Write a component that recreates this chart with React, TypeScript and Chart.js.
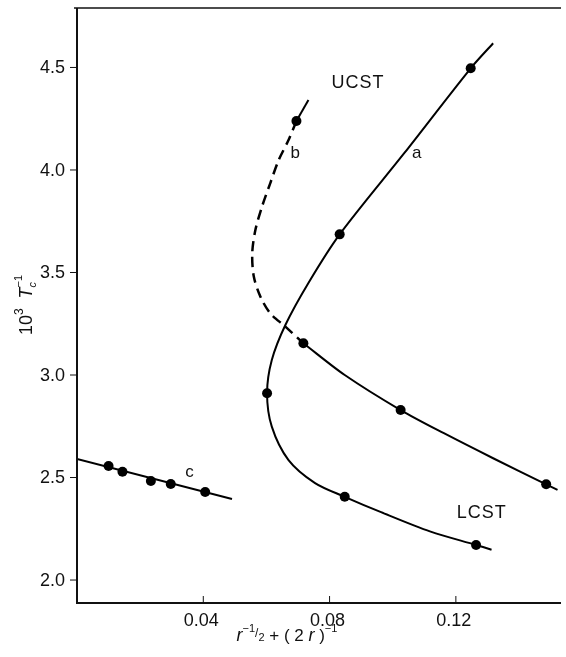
import React, { useEffect, useRef } from 'react';
import { Chart, registerables } from 'chart.js';

Chart.register(...registerables);

// ---- axis ranges ----
const X_MIN = 0;
const X_MAX = 0.1533;
const Y_MIN = 1.888;
const Y_MAX = 4.79;

// ---- ticks ----
const xTickValues = [0.04, 0.08, 0.12];
const xTickLabels = ['0.04', '0.08', '0.12'];
const yTickValues = [2.0, 2.5, 3.0, 3.5, 4.0, 4.5];
const yTickLabels = ['2.0', '2.5', '3.0', '3.5', '4.0', '4.5'];

// ---- curve a (solid) ----
const curveA: [number, number][] = [
  [0.1318, 4.618], [0.1247, 4.496], [0.1037, 4.083], [0.0832, 3.686], [0.0733, 3.449],
  [0.0660, 3.244], [0.0617, 3.073], [0.0602, 2.911], [0.0617, 2.748],
  [0.0670, 2.585], [0.0754, 2.473], [0.0848, 2.406], [0.0963, 2.331],
  [0.1120, 2.236], [0.1264, 2.171], [0.1313, 2.148],
];

// ---- curve b: short solid top, dashed middle, solid lower branch ----
const curveBTop: [number, number][] = [[0.0733, 4.341], [0.0695, 4.239]];
const curveBDashed: [number, number][] = [
  [0.0695, 4.239], [0.0670, 4.146], [0.0639, 4.049], [0.0612, 3.935],
  [0.0586, 3.821], [0.0565, 3.707], [0.0555, 3.594], [0.0560, 3.480],
  [0.0581, 3.382], [0.0612, 3.301], [0.0660, 3.236], [0.0717, 3.155],
];
const curveBLower: [number, number][] = [
  [0.0717, 3.155], [0.0848, 3.000], [0.1025, 2.829], [0.1162, 2.716],
  [0.1318, 2.594], [0.1486, 2.467], [0.1522, 2.440],
];

// ---- curve c (straight fit) ----
const curveC: [number, number][] = [[0.0, 2.590], [0.0491, 2.395]];

// ---- measured points ----
const pointsA: [number, number][] = [
  [0.1247, 4.496], [0.0832, 3.686], [0.0602, 2.911], [0.0848, 2.406], [0.1264, 2.171],
];
const pointsB: [number, number][] = [
  [0.0695, 4.239], [0.0717, 3.155], [0.1025, 2.829], [0.1486, 2.467],
];
const pointsC: [number, number][] = [
  [0.0100, 2.556], [0.0144, 2.528], [0.0234, 2.483], [0.0297, 2.468], [0.0406, 2.429],
];

// ---- in-plot labels ----
const labelTexts = ['UCST', 'b', 'a', 'c', 'LCST'];
const labelX = [0.0890, 0.0691, 0.1076, 0.0356, 0.1282];
const labelY = [4.424, 4.081, 4.081, 2.523, 2.327];

const FONT = '"Liberation Sans", Arial, sans-serif';
const INK = '#111';

type Seg = { t: string; size: number; italic?: boolean; dy?: number; noAdvance?: boolean };

function drawRich(ctx: CanvasRenderingContext2D, segs: Seg[], cx: number, cy: number, rotate: boolean) {
  ctx.save();
  ctx.translate(cx, cy);
  if (rotate) ctx.rotate(-Math.PI / 2);
  const fontOf = (s: Seg) => `${s.italic ? 'italic ' : ''}${s.size}px ${FONT}`;
  let total = 0;
  segs.forEach((s) => {
    ctx.font = fontOf(s);
    if (!s.noAdvance) total += ctx.measureText(s.t).width;
  });
  let x = -total / 2;
  ctx.textBaseline = 'alphabetic';
  ctx.textAlign = 'left';
  segs.forEach((s) => {
    ctx.font = fontOf(s);
    ctx.fillText(s.t, x, 6 + (s.dy || 0));
    if (!s.noAdvance) x += ctx.measureText(s.t).width;
  });
  ctx.restore();
}

const axesPlugin = {
  id: 'paperAxes',
  afterDraw(chart: any) {
    const { ctx, chartArea: ca, scales } = chart;
    const xs = scales.x;
    const ys = scales.y;
    ctx.save();
    ctx.strokeStyle = INK;
    ctx.fillStyle = INK;
    // main axes
    ctx.lineWidth = 2;
    ctx.beginPath();
    ctx.moveTo(ca.left, ca.top);
    ctx.lineTo(ca.left, ca.bottom);
    ctx.lineTo(ca.right, ca.bottom);
    ctx.stroke();
    // top frame line
    ctx.lineWidth = 1.5;
    ctx.beginPath();
    ctx.moveTo(ca.left - 3, ca.top);
    ctx.lineTo(ca.right, ca.top);
    ctx.stroke();

    // y ticks (outward) and labels
    ctx.lineWidth = 1;
    ctx.font = `18px ${FONT}`;
    ctx.textAlign = 'right';
    ctx.textBaseline = 'middle';
    yTickValues.forEach((v, i) => {
      const py = ys.getPixelForValue(v);
      ctx.beginPath();
      ctx.moveTo(ca.left - 7, py);
      ctx.lineTo(ca.left, py);
      ctx.stroke();
      ctx.fillText(yTickLabels[i], ca.left - 12, py + 1);
    });

    // x ticks (inward) and labels
    ctx.textAlign = 'center';
    ctx.textBaseline = 'top';
    xTickValues.forEach((v, i) => {
      const px = xs.getPixelForValue(v);
      ctx.beginPath();
      ctx.moveTo(px, ca.bottom);
      ctx.lineTo(px, ca.bottom - 7);
      ctx.stroke();
      ctx.fillText(xTickLabels[i], px - 2, ca.bottom + 9);
    });

    // axis titles
    drawRich(
      ctx,
      [
        { t: '10', size: 18 },
        { t: '3', size: 12, dy: -9 },
        { t: '  ', size: 18 },
        { t: 'T', size: 18, italic: true },
        { t: 'c', size: 11, italic: true, dy: 4, noAdvance: true },
        { t: '−1', size: 11, dy: -10 },
      ],
      26,
      305,
      true,
    );
    drawRich(
      ctx,
      [
        { t: 'r', size: 18, italic: true },
        { t: '−1', size: 11, dy: -9 },
        { t: '/', size: 12, dy: -4 },
        { t: '2', size: 11, dy: 0 },
        { t: ' + ( 2 ', size: 17 },
        { t: 'r', size: 18, italic: true },
        { t: ' )', size: 17 },
        { t: '−1', size: 11, dy: -9 },
      ],
      xs.getPixelForValue(0.0665),
      ca.bottom + 32,
      false,
    );

    // in-plot labels
    ctx.textAlign = 'center';
    ctx.textBaseline = 'middle';
    labelTexts.forEach((t, i) => {
      const big = t.length > 1;
      ctx.font = `${big ? 18 : 17}px ${FONT}`;
      (ctx as any).letterSpacing = big ? '1px' : '0px';
      ctx.fillText(t, xs.getPixelForValue(labelX[i]), ys.getPixelForValue(labelY[i]));
    });
    (ctx as any).letterSpacing = '0px';
    ctx.restore();
  },
};

const toXY = (arr: [number, number][]) => arr.map(([x, y]) => ({ x, y }));

export default function App() {
  const ref = useRef<HTMLCanvasElement | null>(null);

  useEffect(() => {
    document.body.style.margin = '0';
    const canvas = ref.current;
    if (!canvas) return;
    const lineBase = {
      showLine: true,
      pointRadius: 0,
      pointHoverRadius: 0,
      borderColor: '#000',
      backgroundColor: '#000',
      borderWidth: 2,
      fill: false,
    };
    const pointBase = {
      showLine: false,
      pointRadius: 5,
      pointHoverRadius: 5,
      pointBorderWidth: 0,
      backgroundColor: '#000',
      borderColor: '#000',
    };
    const chart = new Chart(canvas, {
      type: 'scatter',
      data: {
        datasets: [
          { ...lineBase, data: toXY(curveA), tension: 0.3 },
          { ...lineBase, data: toXY(curveBTop), tension: 0 },
          { ...lineBase, data: toXY(curveBDashed), tension: 0.3, borderDash: [10, 6], borderWidth: 2.5 },
          { ...lineBase, data: toXY(curveBLower), tension: 0.3 },
          { ...lineBase, data: toXY(curveC), tension: 0 },
          { ...pointBase, data: toXY(pointsA) },
          { ...pointBase, data: toXY(pointsB) },
          { ...pointBase, data: toXY(pointsC) },
        ] as any,
      },
      options: {
        animation: false,
        responsive: false,
        maintainAspectRatio: false,
        events: [],
        layout: { padding: { left: 77, top: 8, right: 1, bottom: 54 } },
        plugins: {
          legend: { display: false },
          tooltip: { enabled: false },
          title: { display: false },
        },
        scales: {
          x: { type: 'linear', display: false, min: X_MIN, max: X_MAX },
          y: { type: 'linear', display: false, min: Y_MIN, max: Y_MAX },
        },
      },
      plugins: [axesPlugin],
    });
    return () => chart.destroy();
  }, []);

  return (
    <div style={{ position: 'absolute', left: 0, top: 0, width: 566, height: 657, background: '#fff' }}>
      <canvas ref={ref} width={566} height={657} style={{ display: 'block', width: 566, height: 657 }} />
    </div>
  );
}
